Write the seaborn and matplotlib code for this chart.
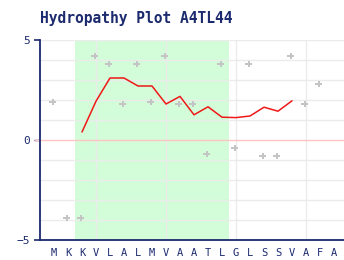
import matplotlib
matplotlib.use("Agg")
import matplotlib.pyplot as plt
import seaborn as sns
import pandas as pd
import numpy as np

# Data
residues = list("MKKVLALMVAATLGLSSVAFA")
hydropathy = [1.9, -3.9, -3.9, 4.2, 3.8, 1.8, 3.8, 1.9, 4.2, 1.8, 1.8, -0.7,
              3.8, -0.4, 3.8, -0.8, -0.8, 4.2, 1.8, 2.8]
avg_start = 2
avg_values = [0.4, 1.94, 3.1, 3.1, 2.7, 2.7, 1.8, 2.18, 1.26, 1.66, 1.14,
              1.12, 1.2, 1.64, 1.44, 1.96]
tm_region = (1.5, 12.5)
title = "Hydropathy Plot A4TL44"

sns.set_style("white")
navy = "#1c2a6e"

fig = plt.figure(figsize=(3.44, 2.6), dpi=100)
ax = fig.add_axes([40/344, 20/260, 304/344, 200/260])

pts = pd.DataFrame({"pos": np.arange(len(hydropathy)) - 0.1, "h": hydropathy})
avg = pd.DataFrame({"pos": np.arange(avg_start, avg_start + len(avg_values)),
                    "h": avg_values})

ax.axvspan(tm_region[0], tm_region[1], color="#d2fdd8", zorder=0, lw=0)
for y in range(-4, 6):
    if y != 0:
        ax.axhline(y, color="#ebebeb", lw=1.0, zorder=1)
for x in [3, 8, 13, 18]:
    ax.axvline(x, color="#ebebeb", lw=1.0, zorder=1)
ax.axhline(0, color="#ffc4c4", lw=1.0, zorder=1.5, xmin=-5/304, clip_on=False)

sns.scatterplot(data=pts, x="pos", y="h", ax=ax, marker="P", s=20,
                color="#c4c4c4", edgecolor="none", zorder=3)
sns.lineplot(data=avg, x="pos", y="h", ax=ax, color="#f01818", lw=1.1, zorder=4)

ax.set_xlim(-1, 20.714)
ax.set_ylim(-5, 5)
ax.set_xticks(np.arange(len(residues)))
ax.set_xticklabels(residues, family="DejaVu Sans Mono", fontsize=7.5, color=navy)
ax.set_yticks([-5, 0, 5])
ax.set_yticklabels(["\u22125", "0", "5"], family="DejaVu Sans Mono", fontsize=8, color=navy)
ax.tick_params(axis="x", length=0, pad=6)
ax.tick_params(axis="y", length=4, width=1.2, color=navy, pad=3, left=True)
for t in ax.yaxis.get_major_ticks():
    if t.get_loc() == 0:
        t.tick1line.set_color("#ffc4c4")
        t.tick1line.set_markeredgewidth(1.0)
ax.set_xlabel("")
ax.set_ylabel("")
for s in ["top", "right"]:
    ax.spines[s].set_visible(False)
ax.spines["left"].set_color(navy)
ax.spines["bottom"].set_color(navy)
ax.spines["left"].set_linewidth(1.3)
ax.spines["bottom"].set_linewidth(1.3)

fig.text(40/344, 1 - 18/260, title, family="DejaVu Sans Mono", weight="bold",
         fontsize=10.5, color=navy, va="center", ha="left")

fig.savefig("out.png", dpi=100)
